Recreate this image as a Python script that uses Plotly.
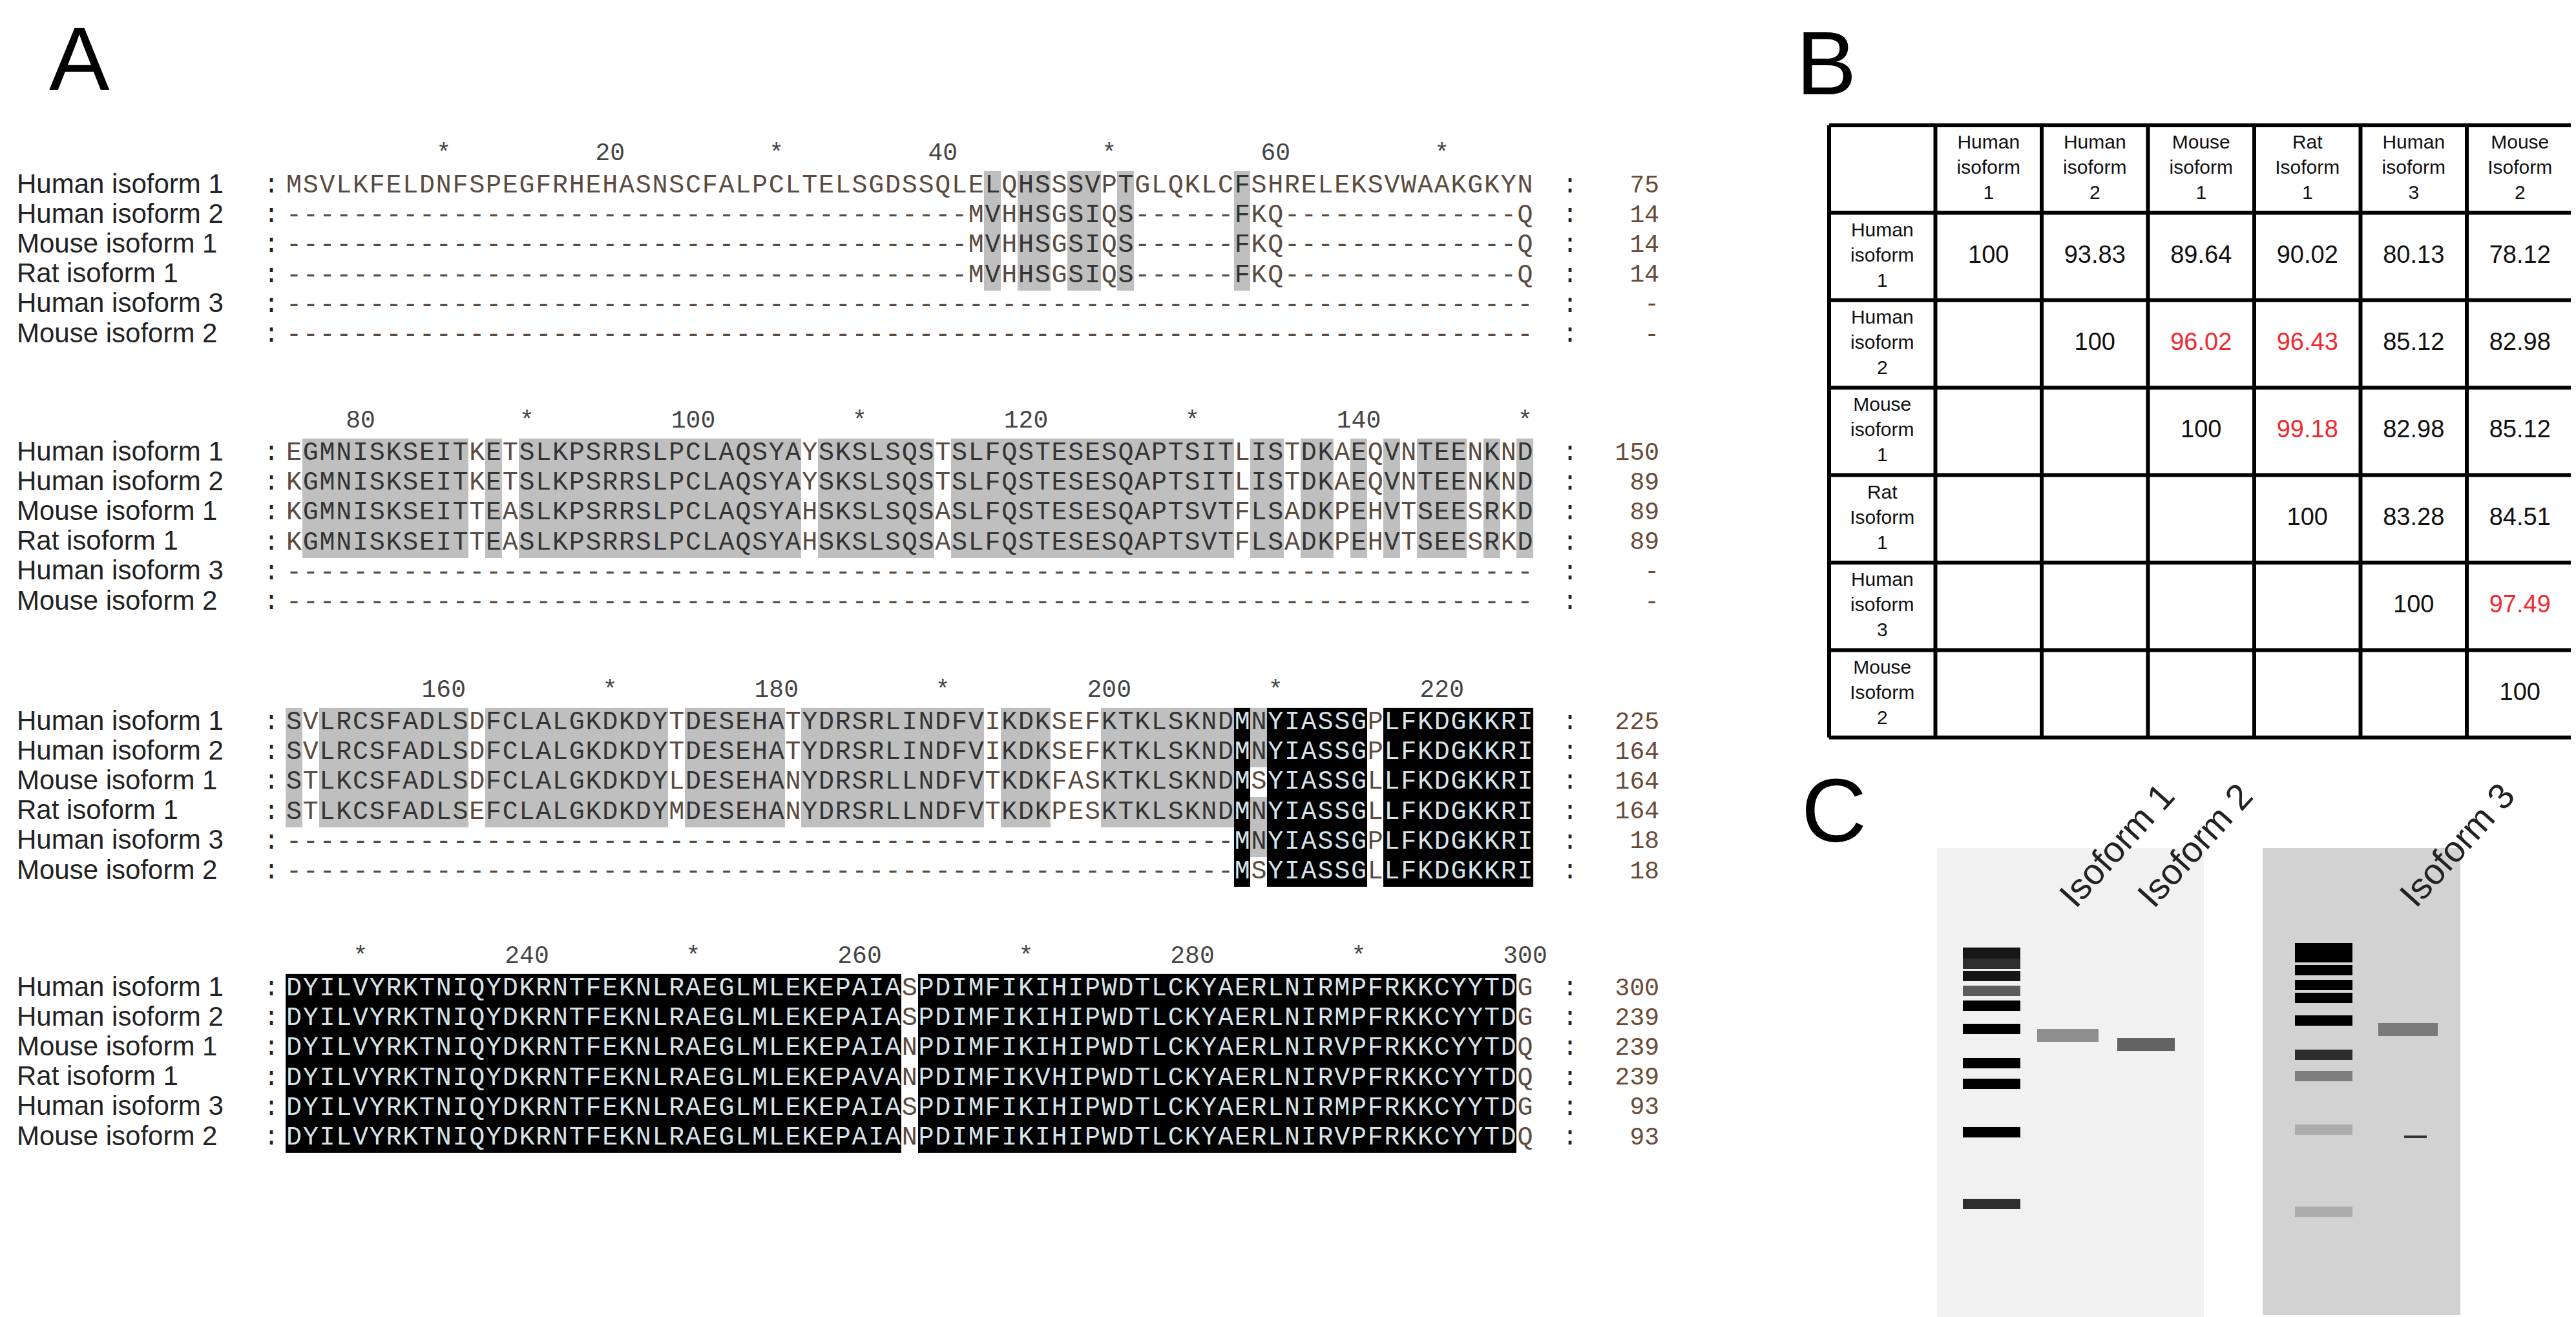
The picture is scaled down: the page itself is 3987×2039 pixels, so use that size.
import plotly.graph_objects as go

W, H = 3987, 2039

names = ["Human isoform 1", "Human isoform 2", "Mouse isoform 1",
         "Rat isoform 1", "Human isoform 3", "Mouse isoform 2"]

blocks = [
    ["MSVLKFELDNFSPEGFRHEHASNSCFALPCLTELSGDSSQLELQHSSSVPTGLQKLCFSHRELEKSVWAAKGKYN",
     "-" * 41 + "MVHHSGSIQS------FKQ--------------Q",
     "-" * 41 + "MVHHSGSIQS------FKQ--------------Q",
     "-" * 41 + "MVHHSGSIQS------FKQ--------------Q",
     "-" * 75,
     "-" * 75],
    ["EGMNISKSEITKETSLKPSRRSLPCLAQSYAYSKSLSQSTSLFQSTESESQAPTSITLISTDKAEQVNTEENKND",
     "KGMNISKSEITKETSLKPSRRSLPCLAQSYAYSKSLSQSTSLFQSTESESQAPTSITLISTDKAEQVNTEENKND",
     "KGMNISKSEITTEASLKPSRRSLPCLAQSYAHSKSLSQSASLFQSTESESQAPTSVTFLSADKPEHVTSEESRKD",
     "KGMNISKSEITTEASLKPSRRSLPCLAQSYAHSKSLSQSASLFQSTESESQAPTSVTFLSADKPEHVTSEESRKD",
     "-" * 75,
     "-" * 75],
    ["SVLRCSFADLSDFCLALGKDKDYTDESEHATYDRSRLINDFVIKDKSEFKTKLSKNDMNYIASSGPLFKDGKKRI",
     "SVLRCSFADLSDFCLALGKDKDYTDESEHATYDRSRLINDFVIKDKSEFKTKLSKNDMNYIASSGPLFKDGKKRI",
     "STLKCSFADLSDFCLALGKDKDYLDESEHANYDRSRLLNDFVTKDKFASKTKLSKNDMSYIASSGLLFKDGKKRI",
     "STLKCSFADLSEFCLALGKDKDYMDESEHANYDRSRLLNDFVTKDKPESKTKLSKNDMNYIASSGLLFKDGKKRI",
     "-" * 57 + "MNYIASSGPLFKDGKKRI",
     "-" * 57 + "MSYIASSGLLFKDGKKRI"],
    ["DYILVYRKTNIQYDKRNTFEKNLRAEGLMLEKEPAIASPDIMFIKIHIPWDTLCKYAERLNIRMPFRKKCYYTDG",
     "DYILVYRKTNIQYDKRNTFEKNLRAEGLMLEKEPAIASPDIMFIKIHIPWDTLCKYAERLNIRMPFRKKCYYTDG",
     "DYILVYRKTNIQYDKRNTFEKNLRAEGLMLEKEPAIANPDIMFIKIHIPWDTLCKYAERLNIRVPFRKKCYYTDQ",
     "DYILVYRKTNIQYDKRNTFEKNLRAEGLMLEKEPAVANPDIMFIKVHIPWDTLCKYAERLNIRVPFRKKCYYTDQ",
     "DYILVYRKTNIQYDKRNTFEKNLRAEGLMLEKEPAIASPDIMFIKIHIPWDTLCKYAERLNIRMPFRKKCYYTDG",
     "DYILVYRKTNIQYDKRNTFEKNLRAEGLMLEKEPAIANPDIMFIKIHIPWDTLCKYAERLNIRVPFRKKCYYTDQ"],
]
end_counts = [["75", "14", "14", "14", "-", "-"],
              ["150", "89", "89", "89", "-", "-"],
              ["225", "164", "164", "164", "18", "18"],
              ["300", "239", "239", "239", "93", "93"]]

# identity table (panel B)
col_labels = ["Human<br>isoform<br>1", "Human<br>isoform<br>2", "Mouse<br>isoform<br>1",
              "Rat<br>Isoform<br>1", "Human<br>isoform<br>3", "Mouse<br>Isoform<br>2"]
row_labels = ["Human<br>isoform<br>1", "Human<br>isoform<br>2", "Mouse<br>isoform<br>1",
              "Rat<br>Isoform<br>1", "Human<br>isoform<br>3", "Mouse<br>Isoform<br>2"]
identity = [
    ["100", "93.83", "89.64", "90.02", "80.13", "78.12"],
    ["", "100", "96.02", "96.43", "85.12", "82.98"],
    ["", "", "100", "99.18", "82.98", "85.12"],
    ["", "", "", "100", "83.28", "84.51"],
    ["", "", "", "", "100", "97.49"],
    ["", "", "", "", "", "100"],
]
highlight = ["96.02", "96.43", "99.18", "97.49"]

# gels (panel C): band y positions (px) and darkness 0..1
gel1_ladder = [1467, 1476, 1484, 1503, 1526, 1549, 1585, 1638, 1670, 1745, 1856]
gel1_ladder_int = [0.9, 0.9, 0.8, 0.9, 0.6, 1, 1, 1, 1, 1, 0.8]
gel1_samples = {"Isoform 1": (1595, 0.35), "Isoform 2": (1609, 0.55)}
gel2_ladder = [1460, 1474, 1494, 1517, 1537, 1572, 1625, 1658, 1741, 1868]
gel2_ladder_int = [1, 1, 1, 1, 1, 1, 0.8, 0.45, 0.25, 0.25]
gel2_samples = {"Isoform 3": (1586, 0.45)}

groups = ["DN", "EQ", "ST", "KR", "FYW", "LIVM", "A", "G", "P", "C", "H"]


def grp(ch):
    for g in groups:
        if ch in g:
            return g
    return None


fig = go.Figure()

x0, cw = 447, 25.75
row_h = 46.2
block_top = [280, 694, 1111, 1523]
SEQ_FONT = "Liberation Mono"

for b, seqs in enumerate(blocks):
    y_rows = [block_top[b] + i * row_h for i in range(6)]
    xs = [x0 + c * cw for c in range(75)]
    z = [[0] * 75 for _ in range(6)]
    for c in range(75):
        col = [s[c] for s in seqs]
        counts = {}
        for ch in col:
            g = grp(ch)
            if g:
                counts[g] = counts.get(g, 0) + 1
        if not counts:
            continue
        best = max(counts, key=counts.get)
        n = counts[best]
        for r, ch in enumerate(col):
            if grp(ch) == best:
                z[r][c] = 2 if n == 6 else (1 if n >= 4 else 0)
    fig.add_trace(go.Heatmap(
        x=xs, y=y_rows, z=z, zmin=0, zmax=2, showscale=False, hoverinfo="skip",
        colorscale=[[0, "rgba(255,255,255,0)"], [0.33, "rgba(255,255,255,0)"],
                    [0.34, "#bfbfbf"], [0.66, "#bfbfbf"], [0.67, "#000000"], [1, "#000000"]],
        xgap=0, ygap=0))
    tx, ty, tt, tc = [], [], [], []
    for r, s in enumerate(seqs):
        for c, ch in enumerate(s):
            tx.append(xs[c]); ty.append(y_rows[r]); tt.append(ch)
            tc.append("#d8e4ea" if z[r][c] == 2 else ("#333333" if z[r][c] == 1 else "#5a4a40"))
    fig.add_trace(go.Scatter(x=tx, y=ty, text=tt, mode="text", hoverinfo="skip",
                             textfont=dict(family=SEQ_FONT, size=40, color=tc)))
    # names, colons, counts
    fig.add_trace(go.Scatter(x=[18] * 6, y=y_rows, text=names, mode="text", textposition="middle right",
                             textfont=dict(family="Arial", size=42, color="#222"), hoverinfo="skip"))
    fig.add_trace(go.Scatter(x=[412] * 6, y=y_rows, text=[":"] * 6, mode="text",
                             textfont=dict(family=SEQ_FONT, size=40, color="#222"), hoverinfo="skip"))
    fig.add_trace(go.Scatter(x=[2422] * 6, y=y_rows, text=[":"] * 6, mode="text",
                             textfont=dict(family=SEQ_FONT, size=40, color="#222"), hoverinfo="skip"))
    fig.add_trace(go.Scatter(x=[2560] * 6, y=y_rows, text=end_counts[b], mode="text",
                             textposition="middle left",
                             textfont=dict(family=SEQ_FONT, size=38, color="#6a4a35"), hoverinfo="skip"))
    # ruler
    rx, rt = [], []
    for c in range(75):
        pos = b * 75 + c + 1
        if pos % 20 == 0:
            rx.append(xs[c]); rt.append(str(pos))
        elif pos % 10 == 0:
            rx.append(xs[c]); rt.append("*")
    fig.add_trace(go.Scatter(x=rx, y=[block_top[b] - 50] * len(rx), text=rt, mode="text",
                             textfont=dict(family=SEQ_FONT, size=38, color="#444"), hoverinfo="skip"))

# gels
gels = [(2990, 3403, 1305, 2037, "#f1f1f1", 3030, 3119, gel1_ladder, gel1_ladder_int,
         gel1_samples, [(3145, 3240), (3269, 3358)]),
        (3494, 3800, 1305, 2028, "#d2d2d2", 3544, 3633, gel2_ladder, gel2_ladder_int,
         gel2_samples, [(3673, 3765)])]
for (gx0, gx1, gy0, gy1, bg, lx0, lx1, lad, lint, samples, lanes) in gels:
    fig.add_shape(type="rect", x0=gx0, x1=gx1, y0=gy0, y1=gy1, fillcolor=bg, line_width=0, layer="below")
    for yv, iv in zip(lad, lint):
        g = int(230 * (1 - iv))
        fig.add_trace(go.Scatter(x=[lx0, lx1], y=[yv, yv], mode="lines", hoverinfo="skip",
                                 line=dict(color=f"rgb({g},{g},{g})", width=16)))
    for (lab, (yv, iv)), (sx0, sx1) in zip(samples.items(), lanes):
        g = int(220 * (1 - iv))
        fig.add_trace(go.Scatter(x=[sx0, sx1], y=[yv, yv], mode="lines", hoverinfo="skip",
                                 line=dict(color=f"rgb({g},{g},{g})", width=20)))
        fig.add_annotation(x=(sx0 + sx1) / 2 + 75, y=1300, text=lab, showarrow=False,
                           textangle=-48, font=dict(family="Arial", size=56, color="#222"),
                           xanchor="center", yanchor="middle")
# faint extra band in isoform 3 lane
fig.add_trace(go.Scatter(x=[3713, 3748], y=[1752, 1752], mode="lines", hoverinfo="skip",
                         line=dict(color="#333", width=4)))

# table drawn as grid + text
tx0, ty0, tcw, trh = 2823, 186, 164.5, 135.4
for i in range(8):
    fig.add_shape(type="line", x0=tx0 + i * tcw, x1=tx0 + i * tcw, y0=ty0, y1=ty0 + 7 * trh,
                  line=dict(color="black", width=6))
    fig.add_shape(type="line", x0=tx0, x1=tx0 + 7 * tcw, y0=ty0 + i * trh, y1=ty0 + i * trh,
                  line=dict(color="black", width=6))
cx = [tx0 + (i + 1.5) * tcw for i in range(6)]
fig.add_trace(go.Scatter(x=cx, y=[ty0 + 0.5 * trh] * 6, text=col_labels, mode="text", hoverinfo="skip",
                         textfont=dict(family="Arial", size=30, color="#111")))
fig.add_trace(go.Scatter(x=[tx0 + 0.5 * tcw] * 6, y=[ty0 + (j + 1.5) * trh for j in range(6)],
                         text=row_labels, mode="text", hoverinfo="skip",
                         textfont=dict(family="Arial", size=30, color="#111")))
vx, vy, vt, vc = [], [], [], []
for j in range(6):
    for i in range(6):
        if identity[j][i]:
            vx.append(cx[i]); vy.append(ty0 + (j + 1.5) * trh); vt.append(identity[j][i])
            vc.append("#ee2a30" if identity[j][i] in highlight else "#111")
fig.add_trace(go.Scatter(x=vx, y=vy, text=vt, mode="text", hoverinfo="skip",
                         textfont=dict(family="Arial", size=38, color=vc)))

for lt, lx, ly in [("A", 115, 82), ("B", 2818, 89), ("C", 2830, 1246)]:
    fig.add_annotation(x=lx, y=ly, text=lt, showarrow=False,
                       font=dict(family="Arial", size=140, color="black"))

fig.update_layout(
    width=W, height=H, margin=dict(l=0, r=0, t=0, b=0),
    paper_bgcolor="white", plot_bgcolor="white", showlegend=False,
    xaxis=dict(range=[0, W], visible=False, domain=[0, 1], fixedrange=True),
    yaxis=dict(range=[H, 0], visible=False, domain=[0, 1], fixedrange=True),
)
fig.write_html("out.html")
